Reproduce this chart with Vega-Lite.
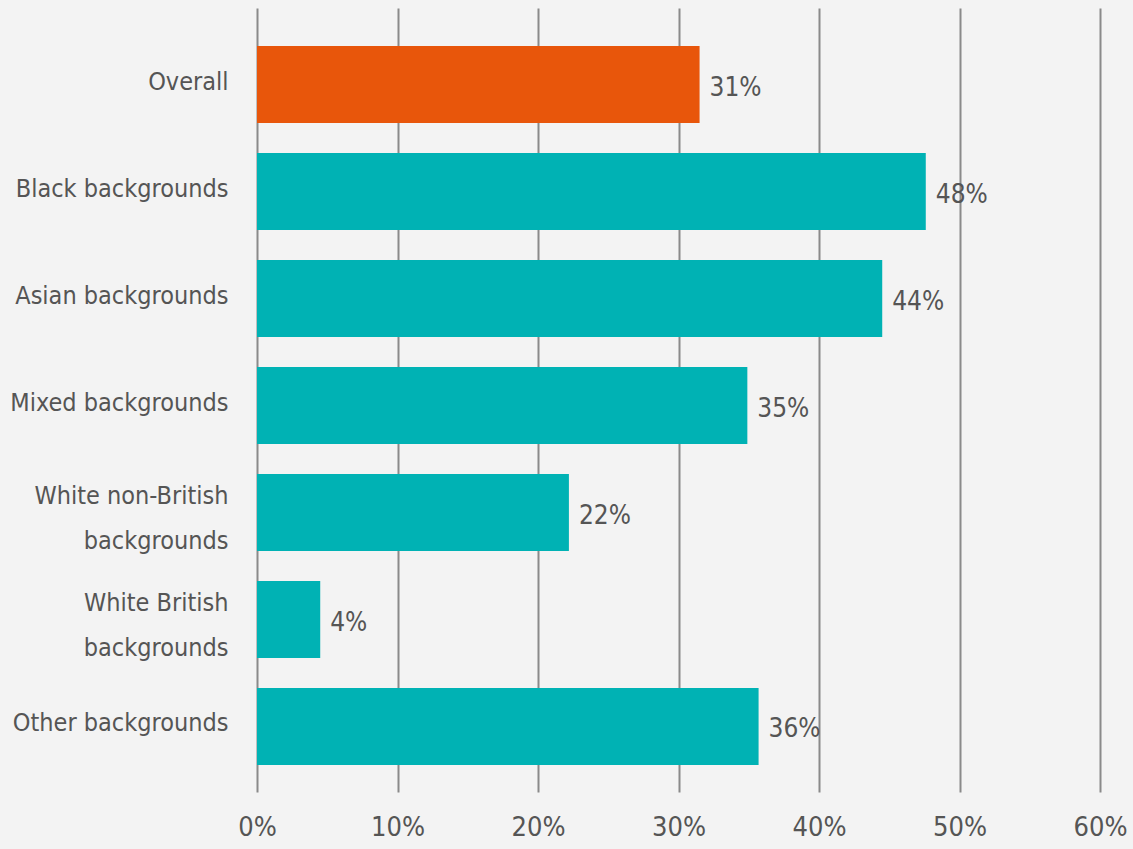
{
  "$schema": "https://vega.github.io/schema/vega-lite/v6.json",
  "autosize": "none",
  "width": 843,
  "height": 784,
  "padding": {"left": 257, "top": 8, "right": 33, "bottom": 57},
  "background": "#f3f3f3",
  "config": {
    "view": {"stroke": null},
    "font": "DejaVu Sans Condensed, Roboto, sans-serif"
  },
  "data": {
    "values": [
      {"group": "Overall", "value": 31.5, "label": "31%", "kind": "overall"},
      {"group": "Black backgrounds", "value": 47.6, "label": "48%", "kind": "group"},
      {"group": "Asian backgrounds", "value": 44.5, "label": "44%", "kind": "group"},
      {"group": "Mixed backgrounds", "value": 34.9, "label": "35%", "kind": "group"},
      {"group": "White non-British|backgrounds", "value": 22.2, "label": "22%", "kind": "group"},
      {"group": "White British|backgrounds", "value": 4.5, "label": "4%", "kind": "group"},
      {"group": "Other backgrounds", "value": 35.7, "label": "36%", "kind": "group"}
    ]
  },
  "encoding": {
    "y": {
      "field": "group",
      "type": "nominal",
      "sort": null,
      "title": null,
      "scale": {"paddingInner": 0.28, "paddingOuter": 0.304, "align": 0.585},
      "axis": {
        "domain": false,
        "ticks": false,
        "labelPadding": 29,
        "labelFontSize": 25,
        "labelColor": "#555555",
        "labelLineHeight": 45,
        "labelLimit": 300,
        "labelOffset": {"condition": {"test": "indexof(datum.value, '|') >= 0", "value": -17}, "value": -3},
        "labelExpr": "split(datum.label, '|')"
      }
    },
    "x": {
      "field": "value",
      "type": "quantitative",
      "title": null,
      "scale": {"domain": [0, 60], "nice": false},
      "axis": {
        "values": [0, 10, 20, 30, 40, 50, 60],
        "domain": false,
        "ticks": false,
        "grid": true,
        "gridColor": "#8a8a8a",
        "gridWidth": 2,
        "labelExpr": "datum.value + '%'",
        "labelFontSize": 27,
        "labelColor": "#555555",
        "labelPadding": 22,
        "labelFlush": false
      }
    }
  },
  "layer": [
    {
      "mark": {"type": "bar"},
      "encoding": {
        "color": {
          "field": "kind",
          "type": "nominal",
          "scale": {"domain": ["overall", "group"], "range": ["#e8560b", "#00b2b4"]},
          "legend": null
        }
      }
    },
    {
      "mark": {"type": "text", "align": "left", "baseline": "middle", "dx": 10, "dy": 3, "fontSize": 26, "color": "#555555"},
      "encoding": {"text": {"field": "label"}}
    }
  ]
}
